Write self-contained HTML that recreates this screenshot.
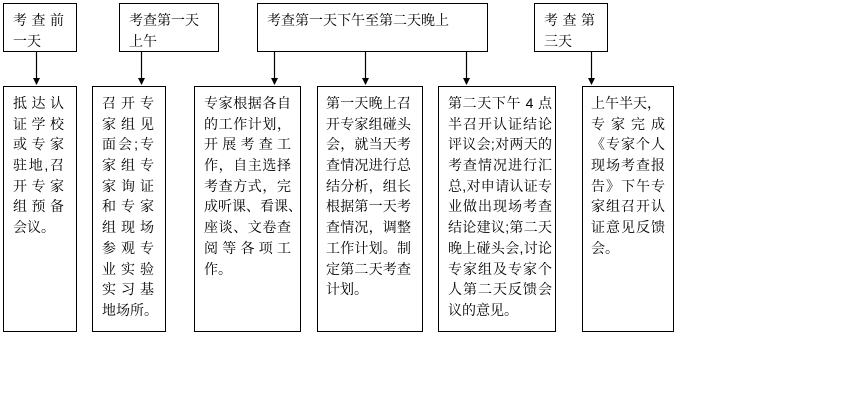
<!DOCTYPE html>
<html><head><meta charset="utf-8"><style>
body{margin:0;background:#fff;width:845px;height:416px;overflow:hidden;position:relative;font-family:"Liberation Sans","SimSun","Noto Serif CJK SC","Noto Sans CJK SC",sans-serif;font-size:14px;color:#000}
.b{position:absolute;border:1px solid #000;box-sizing:border-box}
.l{position:absolute;white-space:nowrap;line-height:20.7px;height:20.7px}
.j{text-align:justify;text-align-last:justify}
svg{position:absolute;left:0;top:0}
</style></head><body>
<div class="b" style="left:3px;top:3px;width:74px;height:49px"></div>
<div class="b" style="left:119px;top:3px;width:100px;height:49px"></div>
<div class="b" style="left:257px;top:3px;width:231px;height:49px"></div>
<div class="b" style="left:534px;top:3px;width:74px;height:49px"></div>
<div class="b" style="left:3px;top:86px;width:74px;height:246px"></div>
<div class="b" style="left:92px;top:86px;width:74px;height:246px"></div>
<div class="b" style="left:194px;top:86px;width:107px;height:246px"></div>
<div class="b" style="left:317px;top:86px;width:106px;height:246px"></div>
<div class="b" style="left:438px;top:86px;width:118px;height:246px"></div>
<div class="b" style="left:582px;top:86px;width:92px;height:246px"></div>
<svg width="845" height="416">
<g stroke="#000" stroke-width="1.2">
<line x1="36.5" y1="52" x2="36.5" y2="84"/><line x1="141.5" y1="52" x2="141.5" y2="84"/><line x1="274.5" y1="52" x2="274.5" y2="84"/><line x1="365.5" y1="52" x2="365.5" y2="84"/><line x1="466.5" y1="52" x2="466.5" y2="84"/><line x1="591.5" y1="52" x2="591.5" y2="84"/></g>
<g fill="#000">
<polygon points="33,78 40,78 36.5,85"/><polygon points="138,78 145,78 141.5,85"/><polygon points="271,78 278,78 274.5,85"/><polygon points="362,78 369,78 365.5,85"/><polygon points="463,78 470,78 466.5,85"/><polygon points="588,78 595,78 591.5,85"/></g>
</svg>
<!-- top labels -->
<div class="l j" style="left:13px;top:10px;width:51px">考查前</div>
<div class="l" style="left:13px;top:31px">一天</div>
<div class="l" style="left:129px;top:10px">考查第一天</div>
<div class="l" style="left:129px;top:31px">上午</div>
<div class="l" style="left:267px;top:10px">考查第一天下午至第二天晚上</div>
<div class="l j" style="left:544px;top:10px;width:51px">考查第</div>
<div class="l" style="left:544px;top:31px">三天</div>
<!-- box1 -->
<div style="position:absolute;left:13px;top:93px;width:51px">
<div class="l j" style="position:relative;width:51px">抵达认</div>
<div class="l j" style="position:relative;width:51px">证学校</div>
<div class="l j" style="position:relative;width:51px">或专家</div>
<div class="l j" style="position:relative;width:51px">驻地,召</div>
<div class="l j" style="position:relative;width:51px">开专家</div>
<div class="l j" style="position:relative;width:51px">组预备</div>
<div class="l" style="position:relative">会议。</div>
</div>
<div style="position:absolute;left:102px;top:93px;width:52px">
<div class="l j" style="position:relative;width:52px">召开专</div>
<div class="l j" style="position:relative;width:52px">家组见</div>
<div class="l j" style="position:relative;width:52px">面会;专</div>
<div class="l j" style="position:relative;width:52px">家组专</div>
<div class="l j" style="position:relative;width:52px">家询证</div>
<div class="l j" style="position:relative;width:52px">和专家</div>
<div class="l j" style="position:relative;width:52px">组现场</div>
<div class="l j" style="position:relative;width:52px">参观专</div>
<div class="l j" style="position:relative;width:52px">业实验</div>
<div class="l j" style="position:relative;width:52px">实习基</div>
<div class="l" style="position:relative">地场所。</div>
</div>
<div style="position:absolute;left:204px;top:93px;width:87px">
<div class="l j" style="position:relative;width:87px">专家根据各自</div>
<div class="l j" style="position:relative;width:87px">的工作计划，</div>
<div class="l j" style="position:relative;width:87px">开展考查工</div>
<div class="l j" style="position:relative;width:87px">作，自主选择</div>
<div class="l j" style="position:relative;width:87px">考查方式，完</div>
<div class="l j" style="position:relative;width:87px">成听课、看课、</div>
<div class="l j" style="position:relative;width:87px">座谈、文卷查</div>
<div class="l j" style="position:relative;width:87px">阅等各项工</div>
<div class="l" style="position:relative">作。</div>
</div>
<div style="position:absolute;left:326px;top:93px;width:85px">
<div class="l j" style="position:relative;width:85px">第一天晚上召</div>
<div class="l j" style="position:relative;width:85px">开专家组碰头</div>
<div class="l j" style="position:relative;width:85px">会，就当天考</div>
<div class="l j" style="position:relative;width:85px">查情况进行总</div>
<div class="l j" style="position:relative;width:85px">结分析，组长</div>
<div class="l j" style="position:relative;width:85px">根据第一天考</div>
<div class="l j" style="position:relative;width:85px">查情况，调整</div>
<div class="l j" style="position:relative;width:85px">工作计划。制</div>
<div class="l j" style="position:relative;width:85px">定第二天考查</div>
<div class="l" style="position:relative">计划。</div>
</div>
<div style="position:absolute;left:448px;top:93px;width:104px">
<div class="l j" style="position:relative;width:104px">第二天下午 4 点</div>
<div class="l j" style="position:relative;width:104px">半召开认证结论</div>
<div class="l j" style="position:relative;width:104px">评议会;对两天的</div>
<div class="l j" style="position:relative;width:104px">考查情况进行汇</div>
<div class="l j" style="position:relative;width:104px">总,对申请认证专</div>
<div class="l j" style="position:relative;width:104px">业做出现场考查</div>
<div class="l j" style="position:relative;width:104px">结论建议;第二天</div>
<div class="l j" style="position:relative;width:104px">晚上碰头会,讨论</div>
<div class="l j" style="position:relative;width:104px">专家组及专家个</div>
<div class="l j" style="position:relative;width:104px">人第二天反馈会</div>
<div class="l" style="position:relative">议的意见。</div>
</div>
<div style="position:absolute;left:591px;top:93px;width:74px">
<div class="l" style="position:relative">上午半天，</div>
<div class="l j" style="position:relative;width:74px">专家完成</div>
<div class="l j" style="position:relative;width:74px">《专家个人</div>
<div class="l j" style="position:relative;width:74px">现场考查报</div>
<div class="l j" style="position:relative;width:74px">告》下午专</div>
<div class="l j" style="position:relative;width:74px">家组召开认</div>
<div class="l j" style="position:relative;width:74px">证意见反馈</div>
<div class="l" style="position:relative">会。</div>
</div>
</body></html>
